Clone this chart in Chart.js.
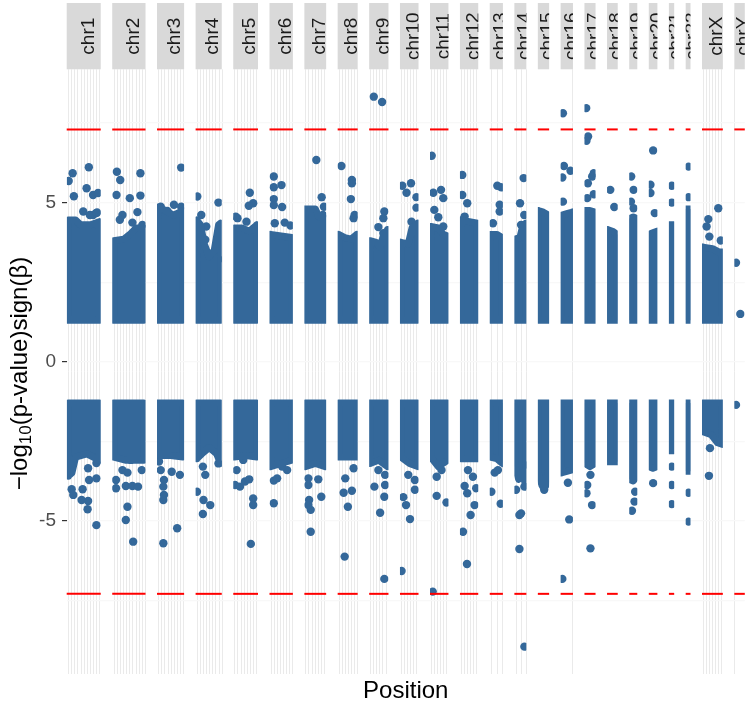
<!DOCTYPE html>
<html>
<head>
  <meta charset="utf-8" />
  <title>Manhattan plot</title>
  <style>
    html, body { margin: 0; padding: 0; background: #fff; }
  </style>
</head>
<body>
  <canvas id="stage" width="749" height="707"></canvas>

  <script src="https://cdn.jsdelivr.net/npm/chart.js@4.4.1/dist/chart.umd.min.js"></script>
  <script>
    // chromosomes and the span of the markers on each of them (Mb)
    const chroms = ['chr1', 'chr2', 'chr3', 'chr4', 'chr5', 'chr6', 'chr7', 'chr8', 'chr9', 'chr10', 'chr11', 'chr12',
      'chr13', 'chr14', 'chr15', 'chr16', 'chr17', 'chr18', 'chr19', 'chr20', 'chr21', 'chr22', 'chrX', 'chrY'];
    const chromStart = [0.7, 0.01, 0.06, 0.07, 0.01, 0.2, 0.04, 0.16, 0.2, 0.1, 0.2, 0.2,
      19.0, 20.0, 20.1, 0.08, 0.01, 0.01, 0.2, 0.06, 9.4, 16.0, 2.7, 2.65];
    const chromEnd = [249.2, 243.0, 197.9, 191.0, 180.7, 170.9, 159.1, 146.3, 141.1, 135.5, 134.9, 133.8,
      115.0, 107.3, 102.5, 90.2, 81.0, 78.0, 59.1, 62.9, 48.1, 51.2, 154.9, 79.0];

    // outer edge of the dense cloud of markers (all p < 0.05), [Mb, value]
    const bandUp = [
      [[0.7, 4.45], [60, 4.45], [100, 4.3], [180, 4.3], [249.2, 4.4]],
      [[0.01, 3.8], [80, 3.85], [130, 4.0], [180, 4.2], [243, 4.2]],
      [[0.06, 4.85], [60, 4.75], [120, 4.6], [197.9, 4.75]],
      [[0.07, 4.45], [30, 4.3], [60, 3.7], [100, 3.3], [140, 3.5], [175, 4.3], [191, 4.35]],
      [[0.01, 4.2], [60, 4.2], [120, 4.1], [180.7, 4.3]],
      [[0.2, 4.0], [85, 3.95], [170.9, 3.9]],
      [[0.04, 4.8], [80, 4.8], [110, 4.55], [159.1, 4.5]],
      [[0.16, 4.0], [50, 3.9], [100, 3.85], [146.3, 4.0]],
      [[0.2, 3.8], [50, 3.75], [80, 3.6], [110, 4.0], [141.1, 4.15]],
      [[0.1, 3.75], [60, 3.7], [90, 4.2], [135.5, 4.35]],
      [[0.2, 4.25], [60, 4.2], [100, 4.0], [134.9, 3.95]],
      [[0.2, 4.45], [70, 4.4], [133.8, 4.35]],
      [[19, 4.0], [70, 4.0], [115, 3.9]],
      [[20, 3.85], [60, 3.9], [85, 4.3], [107.3, 4.35]],
      [[20.1, 4.75], [60, 4.7], [102.5, 4.6]],
      [[0.08, 4.6], [45, 4.65], [90.2, 4.7]],
      [[0.01, 4.75], [40, 4.75], [81, 4.7]],
      [[0.01, 4.15], [40, 4.1], [78, 4.0]],
      [[0.2, 4.5], [30, 4.55], [59.1, 4.5]],
      [[0.06, 4.0], [30, 4.05], [62.9, 4.1]],
      [[9.4, 4.3], [48.1, 4.3]],
      [[16, 4.8], [51.2, 4.8]],
      [[2.7, 3.6], [80, 3.55], [130, 3.45], [154.9, 3.45]],
      []
    ];
    const bandDown = [
      [[0.7, -3.6], [30, -3.5], [60, -3.0], [150, -2.9], [249.2, -3.1]],
      [[0.01, -3.0], [100, -3.1], [243, -3.1]],
      [[0.06, -2.95], [100, -2.95], [197.9, -3.0]],
      [[0.07, -3.05], [40, -2.9], [100, -2.7], [160, -2.9], [191, -3.2]],
      [[0.01, -3.0], [90, -2.95], [180.7, -3.0]],
      [[0.2, -3.3], [85, -3.2], [170.9, -3.1]],
      [[0.04, -3.3], [80, -3.2], [159.1, -3.3]],
      [[0.16, -3.0], [70, -3.0], [146.3, -3.0]],
      [[0.2, -3.2], [70, -3.1], [141.1, -3.3]],
      [[0.1, -3.0], [70, -3.2], [135.5, -3.3]],
      [[0.2, -3.0], [60, -3.3], [134.9, -3.1]],
      [[0.2, -3.05], [133.8, -3.05]],
      [[19, -3.0], [70, -3.05], [115, -3.2]],
      [[20, -3.3], [50, -3.7], [80, -3.5], [107.3, -3.9]],
      [[20.1, -3.5], [50, -3.9], [80, -3.9], [102.5, -3.4]],
      [[0.08, -3.5], [45, -3.45], [90.2, -3.4]],
      [[0.01, -3.2], [40, -3.3], [81, -3.2]],
      [[0.01, -3.15], [78, -3.15]],
      [[0.2, -3.7], [30, -3.75], [59.1, -3.6]],
      [[0.06, -3.3], [30, -3.35], [62.9, -3.3]],
      [[9.4, -2.8], [48.1, -2.8]],
      [[16, -3.45], [51.2, -3.45]],
      [[2.7, -2.2], [70, -2.3], [120, -2.55], [154.9, -2.6]],
      []
    ];

    // single markers standing out of the cloud: [chromosome index, Mb, value]
    const hits = [
      [0, 36, 5.92], [0, 4, 5.68], [0, 166, 6.11], [0, 46, 5.2], [0, 148, 5.45], [0, 200, 5.24], [0, 240, 5.3],
      [0, 121, 4.72], [0, 200, 4.61], [0, 232, 4.69], [0, 174, 4.61], [0, 225, 4.67],
      [0, 28, -4.01], [0, 116, -4.01], [0, 41, -4.19], [0, 108, -4.35], [0, 160, -4.38], [0, 156, -4.64],
      [0, 227, -5.14], [0, 227, -3.67], [0, 168, -3.72], [0, 227, -3.19], [0, 160, -3.35],
      [1, 25, 5.97], [1, 52, 5.71], [1, 214, 5.92], [1, 22, 5.24], [1, 129, 5.14], [1, 214, 5.22], [1, 70, 4.61],
      [1, 190, 4.7], [1, 150, 4.37], [1, 49, 4.46], [1, 230, 4.3],
      [1, 18, -3.72], [1, 18, -3.98], [1, 70, -3.41], [1, 110, -3.49], [1, 97, -3.91], [1, 150, -3.91],
      [1, 195, -3.93], [1, 225, -3.41], [1, 110, -4.56], [1, 97, -4.98], [1, 156, -5.66], [1, 137, -3.09],
      [2, 184, 6.1], [2, 126, 4.93], [2, 20, 4.87], [2, 73, 4.74], [2, 184, 4.87], [2, 140, 4.51],
      [2, 20, -3.41], [2, 46, -3.72], [2, 41, -3.93], [2, 46, -4.19], [2, 41, -4.35], [2, 108, -3.46],
      [2, 174, -3.56], [2, 152, -5.24], [2, 41, -5.71], [2, 6, -3.14],
      [3, 4, 5.19], [3, 174, 5.0], [3, 36, 4.61], [3, 76, 4.25], [3, 68, 3.83], [3, 108, 3.25], [3, 174, 3.22],
      [3, 1, -4.09], [3, 54, -4.35], [3, 108, -4.51], [3, 49, -4.79], [3, 68, -3.56], [3, 174, -3.2], [3, 49, -3.3],
      [4, 124, 5.31], [4, 151, 4.98], [4, 116, 4.9], [4, 25, 4.51], [4, 97, 4.4], [4, 10, 4.56],
      [4, 18, -3.41], [4, 5, -3.88], [4, 45, -3.93], [4, 85, -3.77], [4, 119, -3.7], [4, 151, -4.3],
      [4, 151, -4.51], [4, 132, -5.73], [4, 71, -3.09],
      [5, 26, 5.82], [5, 26, 5.48], [5, 88, 5.55], [5, 26, 5.11], [5, 26, 4.92], [5, 93, 4.86], [5, 34, 4.35],
      [5, 114, 4.37], [5, 160, 4.28],
      [5, 26, -3.74], [5, 53, -3.67], [5, 26, -4.45], [5, 133, -3.41], [5, 93, -3.3],
      [6, 88, 6.34], [6, 131, 5.17], [6, 149, 4.87], [6, 141, 4.61],
      [6, 24, -3.67], [6, 104, -3.7], [6, 24, -3.88], [6, 30, -4.35], [6, 43, -4.66], [6, 24, -4.51],
      [6, 128, -4.25], [6, 43, -5.35],
      [7, 23, 6.15], [7, 107, 5.71], [7, 107, 5.61], [7, 99, 5.11], [7, 129, 4.61], [7, 121, 4.51],
      [7, 41, -4.12], [7, 107, -4.06], [7, 75, -4.56], [7, 49, -6.13], [7, 54, -3.67], [7, 121, -3.35],
      [8, 30, 8.33], [8, 97, 8.16], [8, 115, 4.72], [8, 107, 4.51], [8, 67, 4.23], [8, 107, 4.04],
      [8, 35, -3.93], [8, 121, -3.88], [8, 115, -4.25], [8, 81, -4.75], [8, 115, -6.83], [8, 67, -3.41], [8, 121, -3.56],
      [9, 12, 5.53], [9, 82, 5.61], [9, 46, 5.31], [9, 126, 5.17], [9, 126, 4.84], [9, 86, 4.4],
      [9, 20, -4.26], [9, 42, -4.51], [9, 74, -4.95], [9, 113, -4.03], [9, 113, -3.72], [9, 6, -6.58], [9, 60, -3.56],
      [10, 7, 6.47], [10, 20, 5.31], [10, 82, 5.4], [10, 100, 5.14], [10, 28, 4.77], [10, 60, 4.54], [10, 100, 4.25],
      [10, 47, -3.62], [10, 47, -4.22], [10, 126, -4.43], [10, 15, -7.23], [10, 86, -3.41],
      [11, 12, 5.87], [11, 12, 5.24], [11, 52, 4.98], [11, 31, 4.56],
      [11, 58, -3.41], [11, 98, -3.62], [11, 31, -3.91], [11, 52, -4.14], [11, 124, -3.98], [11, 111, -4.51],
      [11, 79, -4.82], [11, 18, -5.35], [11, 50, -6.36],
      [12, 75, 5.53], [12, 107, 5.48], [12, 94, 4.93], [12, 94, 4.72], [12, 40, 4.35],
      [12, 27, -4.09], [12, 102, -4.47], [12, 54, -3.49], [12, 80, -3.41],
      [13, 90, 5.77], [13, 61, 4.98], [13, 95, 4.61], [13, 69, 4.3],
      [13, 29, -4.03], [13, 69, -4.77], [13, 56, -4.82], [13, 56, -5.89], [13, 96, -8.96], [13, 96, -3.93], [13, 96, -3.25],
      [14, 67, -4.03],
      [15, 14, 7.81], [15, 22, 6.15], [15, 75, 6.0], [15, 9, 5.79], [15, 14, 5.03],
      [15, 54, -3.81], [15, 65, -4.96], [15, 9, -6.83],
      [16, 10, 7.97], [16, 25, 7.08], [16, 12, 6.94], [16, 71, 5.92], [16, 58, 5.82], [16, 23, 5.61], [16, 18, 5.14], [16, 71, 5.26],
      [16, 18, -3.88], [16, 12, -4.14], [16, 57, -4.51], [16, 44, -5.87], [16, 44, -3.56],
      [17, 22, 5.4], [17, 54, 4.86],
      [18, 13, 5.82], [18, 32, 5.4], [18, 11, 5.03], [18, 32, 4.82],
      [18, 45, -4.09], [18, 40, -4.4], [18, 19, -4.69],
      [19, 32, 6.64], [19, 10, 5.56], [19, 10, 5.3], [19, 45, 4.67],
      [19, 32, -3.82],
      [20, 31, 5.53], [20, 31, 5.0],
      [20, 31, -3.3], [20, 31, -3.88], [20, 31, -4.48],
      [21, 38, 6.13], [21, 38, 5.17],
      [21, 38, -4.12], [21, 38, -5.03],
      [22, 126, 4.82], [22, 46, 4.48], [22, 32, 4.25], [22, 54, 3.93], [22, 146, 3.81],
      [22, 59, -2.72], [22, 51, -3.59],
      [23, 12, 3.11], [23, 47, 1.5], [23, 12, -1.36]
    ];

    const yLabels = [-5, 0, 5];
    const yGrid = [-7.5, -5, -2.5, 0, 2.5, 5, 7.5];
    const gridBreaks = [
      [0, 25, 50, 75, 100, 125, 150, 175, 200, 225, 250],
      [0, 25, 50, 75, 100, 125, 150, 175, 200, 225, 250],
      [0, 25, 50, 75, 100, 125, 150, 175, 200],
      [0, 25, 50, 75, 100, 125, 150, 175, 200],
      [0, 25, 50, 75, 100, 125, 150, 175],
      [0, 25, 50, 75, 100, 125, 150, 175],
      [0, 25, 50, 75, 100, 125, 150],
      [0, 25, 50, 75, 100, 125, 150],
      [0, 25, 50, 75, 100, 125],
      [0, 25, 50, 75, 100, 125],
      [0, 25, 50, 75, 100, 125],
      [0, 25, 50, 75, 100, 125],
      [25, 75, 110],
      [30, 65, 105],
      [],
      [89],
      [], [], [], [], [], [],
      [0, 25, 50, 75, 100, 125, 150],
      [0]
    ];
    const cutoff = 1.3;   // -log10(0.05)
    const gwsLine = 7.3;  // -log10(5e-8)

    const blue = '#34689A';
    const fontFamily = '"Liberation Sans", Arial, sans-serif';
    Chart.defaults.font.family = fontFamily;

    // one panel per chromosome, 5% padding each side, same gap between panels
    const GAP = 92.3;
    const panelLo = [], panelHi = [], offset = [];
    let acc = 0;
    chroms.forEach((c, i) => {
      const r = chromEnd[i] - chromStart[i];
      panelLo[i] = chromStart[i] - 0.05 * r;
      panelHi[i] = chromEnd[i] + 0.05 * r;
      offset[i] = acc;
      acc += panelHi[i] - panelLo[i] + GAP;
    });
    const xMax = acc - GAP;
    const toX = (i, mb) => offset[i] + mb - panelLo[i];

    function panelPx(chart, i) {
      const x = chart.scales.x;
      return [x.getPixelForValue(offset[i]), x.getPixelForValue(offset[i] + panelHi[i] - panelLo[i])];
    }

    const datasets = [];
    chroms.forEach((c, i) => {
      [[bandUp[i], cutoff], [bandDown[i], -cutoff]].forEach(([edge, base]) => {
        if (!edge.length) return;
        const first = edge[0], last = edge[edge.length - 1];
        const pts = edge.map(([mb, v]) => ({ x: toX(i, mb), y: v }));
        pts.push({ x: toX(i, last[0]), y: base }, { x: toX(i, first[0]), y: base }, { x: toX(i, first[0]), y: first[1] });
        datasets.push({
          type: 'line', data: pts, panel: i,
          borderColor: blue, backgroundColor: blue, borderWidth: 7,
          borderJoinStyle: 'round', borderCapStyle: 'round',
          pointRadius: 0, fill: 'shape', tension: 0
        });
      });
      datasets.push({
        type: 'scatter', panel: i,
        data: hits.filter(h => h[0] === i).map(h => ({ x: toX(i, h[1]), y: h[2] })),
        pointRadius: 4.2, backgroundColor: blue, borderWidth: 0
      });
    });

    const facets = {
      id: 'facets',
      beforeDraw(chart) {
        const { ctx, chartArea: a, scales: { x } } = chart;
        ctx.save();
        ctx.strokeStyle = '#EAEAEA';
        ctx.lineWidth = 1;
        chroms.forEach((c, i) => {
          gridBreaks[i].forEach(b => {
            if (b < panelLo[i] || b > panelHi[i]) return;
            const px = Math.round(x.getPixelForValue(toX(i, b))) + 0.5;
            ctx.beginPath();
            ctx.moveTo(px, a.top);
            ctx.lineTo(px, a.bottom);
            ctx.stroke();
          });
        });
        ctx.restore();
      },
      beforeDatasetDraw(chart, args) {
        const i = chart.data.datasets[args.index].panel;
        const [l, r] = panelPx(chart, i);
        const a = chart.chartArea;
        chart.ctx.save();
        chart.ctx.beginPath();
        chart.ctx.rect(l, a.top, r - l, a.bottom - a.top);
        chart.ctx.clip();
      },
      afterDatasetDraw(chart) {
        chart.ctx.restore();
      },
      afterDatasetsDraw(chart) {
        const { ctx, scales: { y } } = chart;
        ctx.save();
        ctx.strokeStyle = '#FF0000';
        ctx.lineWidth = 2;
        chroms.forEach((c, i) => {
          const [l, r] = panelPx(chart, i);
          [gwsLine, -gwsLine].forEach(v => {
            const py = y.getPixelForValue(v);
            ctx.beginPath();
            ctx.moveTo(l, py);
            ctx.lineTo(r, py);
            ctx.stroke();
          });
        });
        ctx.restore();
      },
      afterDraw(chart) {
        const ctx = chart.ctx;
        // strips
        chroms.forEach((c, i) => {
          const [l, r] = panelPx(chart, i);
          ctx.save();
          ctx.fillStyle = '#D9D9D9';
          ctx.fillRect(l, 3, r - l, 66.3);
          ctx.beginPath();
          ctx.rect(l, 3, r - l, 66.3);
          ctx.clip();
          ctx.translate((l + r) / 2 + 9.8, 36.2);
          ctx.rotate(-Math.PI / 2);
          ctx.fillStyle = '#1A1A1A';
          ctx.font = '19px ' + fontFamily;
          ctx.textAlign = 'center';
          ctx.textBaseline = 'alphabetic';
          ctx.fillText(c, 0, 0);
          ctx.restore();
        });
        // y axis title with subscript
        const big = '24px ' + fontFamily, small = '17px ' + fontFamily;
        ctx.save();
        ctx.font = big;
        const w1 = ctx.measureText('\u2212log').width;
        const w3 = ctx.measureText('(p-value)sign(\u03B2)').width;
        ctx.font = small;
        const w2 = ctx.measureText('10').width;
        ctx.translate(27, 373.5);
        ctx.rotate(-Math.PI / 2);
        ctx.fillStyle = '#000000';
        ctx.textAlign = 'left';
        ctx.textBaseline = 'alphabetic';
        let tx = -(w1 + w2 + w3) / 2;
        ctx.font = big;
        ctx.fillText('\u2212log', tx, 0);
        tx += w1;
        ctx.font = small;
        ctx.fillText('10', tx, 4);
        tx += w2;
        ctx.font = big;
        ctx.fillText('(p-value)sign(\u03B2)', tx, 0);
        ctx.restore();
      }
    };

    new Chart(document.getElementById('stage'), {
      type: 'scatter',
      data: { datasets },
      options: {
        responsive: false,
        animation: false,
        events: [],
        layout: { padding: { top: 69.3, left: 0, right: 0, bottom: 0 } },
        plugins: { legend: { display: false }, tooltip: { enabled: false } },
        scales: {
          x: {
            type: 'linear', min: 0, max: xMax,
            ticks: { display: false },
            grid: { display: false },
            border: { display: false },
            title: { display: true, text: 'Position', color: '#000000', font: { size: 24 }, padding: { top: 0, bottom: 1 } },
            afterFit: s => { s.height = 33; }
          },
          y: {
            type: 'linear', min: -9.82, max: 9.19,
            afterBuildTicks: s => { s.ticks = yGrid.map(v => ({ value: v })); },
            ticks: {
              autoSkip: false, padding: 6, color: '#4D4D4D', font: { size: 19 },
              callback: v => yLabels.includes(v) ? String(v) : ''
            },
            grid: {
              color: '#F8F8F8',
              lineWidth: 1.2,
              tickLength: 4.7,
              tickWidth: 1.2,
              tickColor: c => yLabels.includes(c.tick.value) ? '#333333' : 'rgba(0,0,0,0)'
            },
            border: { display: false },
            afterFit: s => { s.width = 66.7; }
          }
        }
      },
      plugins: [facets]
    });
  </script>
</body>
</html>
